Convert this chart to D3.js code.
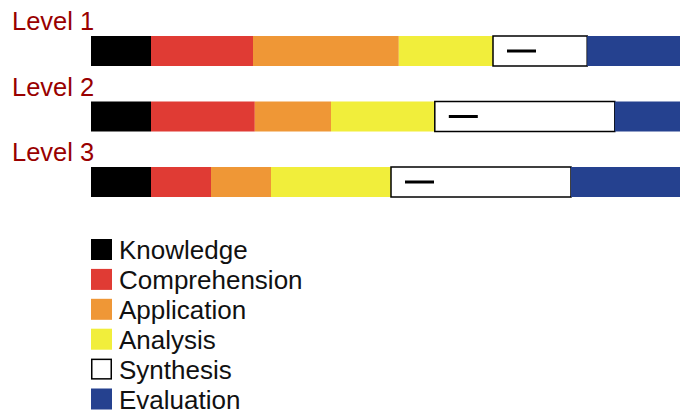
<!DOCTYPE html>
<html>
<head>
<meta charset="utf-8">
<script src="https://cdn.jsdelivr.net/npm/d3@7"></script>
<style>
  html, body { margin: 0; padding: 0; background: #fff; }
  svg { display: block; font-family: "Liberation Sans", Arial, sans-serif; }
</style>
</head>
<body>
<svg id="chart" width="680" height="412"></svg>
<script>
// Share of questions (%) at each cognitive level, per course level
const levels = ["Level 1", "Level 2", "Level 3"];
const categories = ["Knowledge", "Comprehension", "Application", "Analysis", "Synthesis", "Evaluation"];
const knowledge     = [10, 10, 10];
const comprehension = [17, 17.3, 10];
const application   = [24.3, 12.7, 10];
const analysis      = [15.7, 17.3, 20];
const synthesis     = [15.7, 30, 30];
const evaluation    = [17.3, 12.7, 20];
const colors = ["#000000", "#E03B34", "#EF9736", "#F1EE3B", "#FFFFFF", "#25418F"];

const series = [knowledge, comprehension, application, analysis, synthesis, evaluation];
const rows = levels.map((lv, i) => {
  const r = { level: lv };
  categories.forEach((c, j) => { r[c] = series[j][i]; });
  return r;
});

const svg = d3.select("#chart");

const x = d3.scaleLinear().domain([0, 100]).range([91, 691]);
const y = d3.scaleBand().domain(levels).range([36, 197]).paddingInner(0.542).paddingOuter(0);

const stacked = d3.stack().keys(categories)(rows);

const layers = svg.append("g").selectAll("g")
  .data(stacked)
  .join("g")
  .attr("fill", (d, i) => colors[i]);

layers.selectAll("rect")
  .data(d => d.map(p => ({ p, key: d.key })))
  .join("rect")
  .attr("x", d => x(d.p[0]))
  .attr("y", d => y(d.p.data.level))
  .attr("width", d => x(d.p[1]) - x(d.p[0]))
  .attr("height", y.bandwidth())
  .attr("stroke", d => d.key === "Synthesis" ? "#000" : "none")
  .attr("stroke-width", 1.5);

// short dash marker inside each Synthesis segment
const synthLayer = stacked[categories.indexOf("Synthesis")];
svg.append("g").selectAll("line")
  .data(synthLayer)
  .join("line")
  .attr("x1", d => x(d[0]) + 14)
  .attr("x2", d => x(d[0]) + 43)
  .attr("y1", d => y(d.data.level) + y.bandwidth() / 2)
  .attr("y2", d => y(d.data.level) + y.bandwidth() / 2)
  .attr("stroke", "#000")
  .attr("stroke-width", 3);

// level titles above each bar
svg.append("g").selectAll("text")
  .data(levels)
  .join("text")
  .attr("x", 12)
  .attr("y", d => y(d) - 6)
  .attr("fill", "#990000")
  .attr("font-size", 25.5)
  .text(d => d);

// legend
const legend = svg.append("g").selectAll("g")
  .data(categories)
  .join("g")
  .attr("transform", (d, i) => `translate(91, ${239 + i * 29.9})`);

legend.append("rect")
  .attr("x", d => d === "Synthesis" ? 0.75 : 0)
  .attr("y", d => d === "Synthesis" ? 0.75 : 0)
  .attr("width", d => d === "Synthesis" ? 19.5 : 21)
  .attr("height", d => d === "Synthesis" ? 19.5 : 21)
  .attr("fill", (d, i) => colors[i])
  .attr("stroke", d => d === "Synthesis" ? "#000" : "none")
  .attr("stroke-width", 1.5);

legend.append("text")
  .attr("x", 28)
  .attr("y", 20)
  .attr("fill", "#111")
  .attr("font-size", 26)
  .text(d => d);
</script>
</body>
</html>
